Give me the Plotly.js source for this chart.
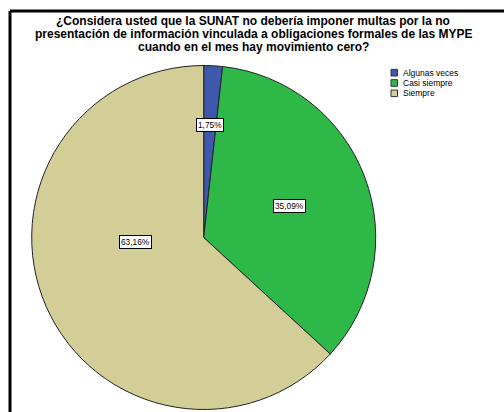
<!DOCTYPE html>
<html>
<head>
<meta charset="utf-8">
<script src="https://cdn.plot.ly/plotly-3.0.1.min.js"></script>
<style>html,body{margin:0;padding:0;background:#fff;}#chart{width:504px;height:412px;}</style>
</head>
<body>
<div id="chart"></div>
<script>
const titleLines = [
  "¿Considera usted que la SUNAT no debería imponer multas por la no",
  "presentación de información vinculada a obligaciones formales de las MYPE",
  "cuando en el mes hay movimiento cero?"
];
const categories = ["Algunas veces", "Casi siempre", "Siempre"];
const counts = [1, 20, 36];
const percentLabels = ["1,75%", "35,09%", "63,16%"];
const colors = ["#3e58ac", "#2eb848", "#d3ce97"];
// label box positions (paper coords)
const labelPos = [[0.4157, 0.6966], [0.5744, 0.4988], [0.2679, 0.4126]];

const W = 504, H = 412;
const px = x => x / W, py = y => 1 - y / H;
const titleRowsY = [21, 34, 47.2];

const trace = {
  type: "pie",
  labels: categories,
  values: counts,
  sort: false,
  direction: "clockwise",
  rotation: 0,
  marker: { colors: colors, line: { color: "#222", width: 1 } },
  textinfo: "none",
  hoverinfo: "label+percent",
  showlegend: false,
  domain: { x: [px(31.7), px(375.7)], y: [py(410.5), py(64.5)] }
};

const annotations = [];
const shapes = [];
titleLines.forEach((t, i) => {
  annotations.push({
    text: "<b>" + t + "</b>", showarrow: false, xref: "paper", yref: "paper",
    x: px(253), y: py(titleRowsY[i]), xanchor: "center", yanchor: "middle",
    font: { family: "Liberation Sans, Arial, sans-serif", size: 12, color: "#000" }
  });
});
percentLabels.forEach((t, i) => {
  annotations.push({
    text: t, showarrow: false, xref: "paper", yref: "paper",
    x: labelPos[i][0], y: labelPos[i][1], xanchor: "center", yanchor: "middle",
    bgcolor: "#fff", bordercolor: "#000", borderwidth: 1, borderpad: 1,
    font: { family: "Liberation Sans, Arial, sans-serif", size: 8.3, color: "#000" }
  });
});
categories.forEach((c, i) => {
  const yc = 72.7 + 10.3 * i;
  shapes.push({
    type: "rect", xref: "paper", yref: "paper",
    x0: px(391), x1: px(397.5), y0: py(yc - 3.3), y1: py(yc + 3.3),
    fillcolor: colors[i], line: { color: "#333", width: 1 }
  });
  annotations.push({
    text: c, showarrow: false, xref: "paper", yref: "paper",
    x: px(400.5), y: py(yc), xanchor: "left", yanchor: "middle",
    font: { family: "Liberation Sans, Arial, sans-serif", size: 8.5, color: "#000" }
  });
});
// frame
shapes.push({ type: "line", xref: "paper", yref: "paper", x0: px(10), x1: 1, y0: py(11), y1: py(11), line: { color: "#000", width: 3 } });
shapes.push({ type: "line", xref: "paper", yref: "paper", x0: px(10), x1: px(10), y0: py(11), y1: 0, line: { color: "#000", width: 3 } });

const layout = {
  width: W, height: H,
  margin: { l: 0, r: 0, t: 0, b: 0 },
  paper_bgcolor: "#fff",
  showlegend: false,
  annotations: annotations,
  shapes: shapes
};
Plotly.newPlot("chart", [trace], layout, { displayModeBar: false, staticPlot: true });
</script>
</body>
</html>
